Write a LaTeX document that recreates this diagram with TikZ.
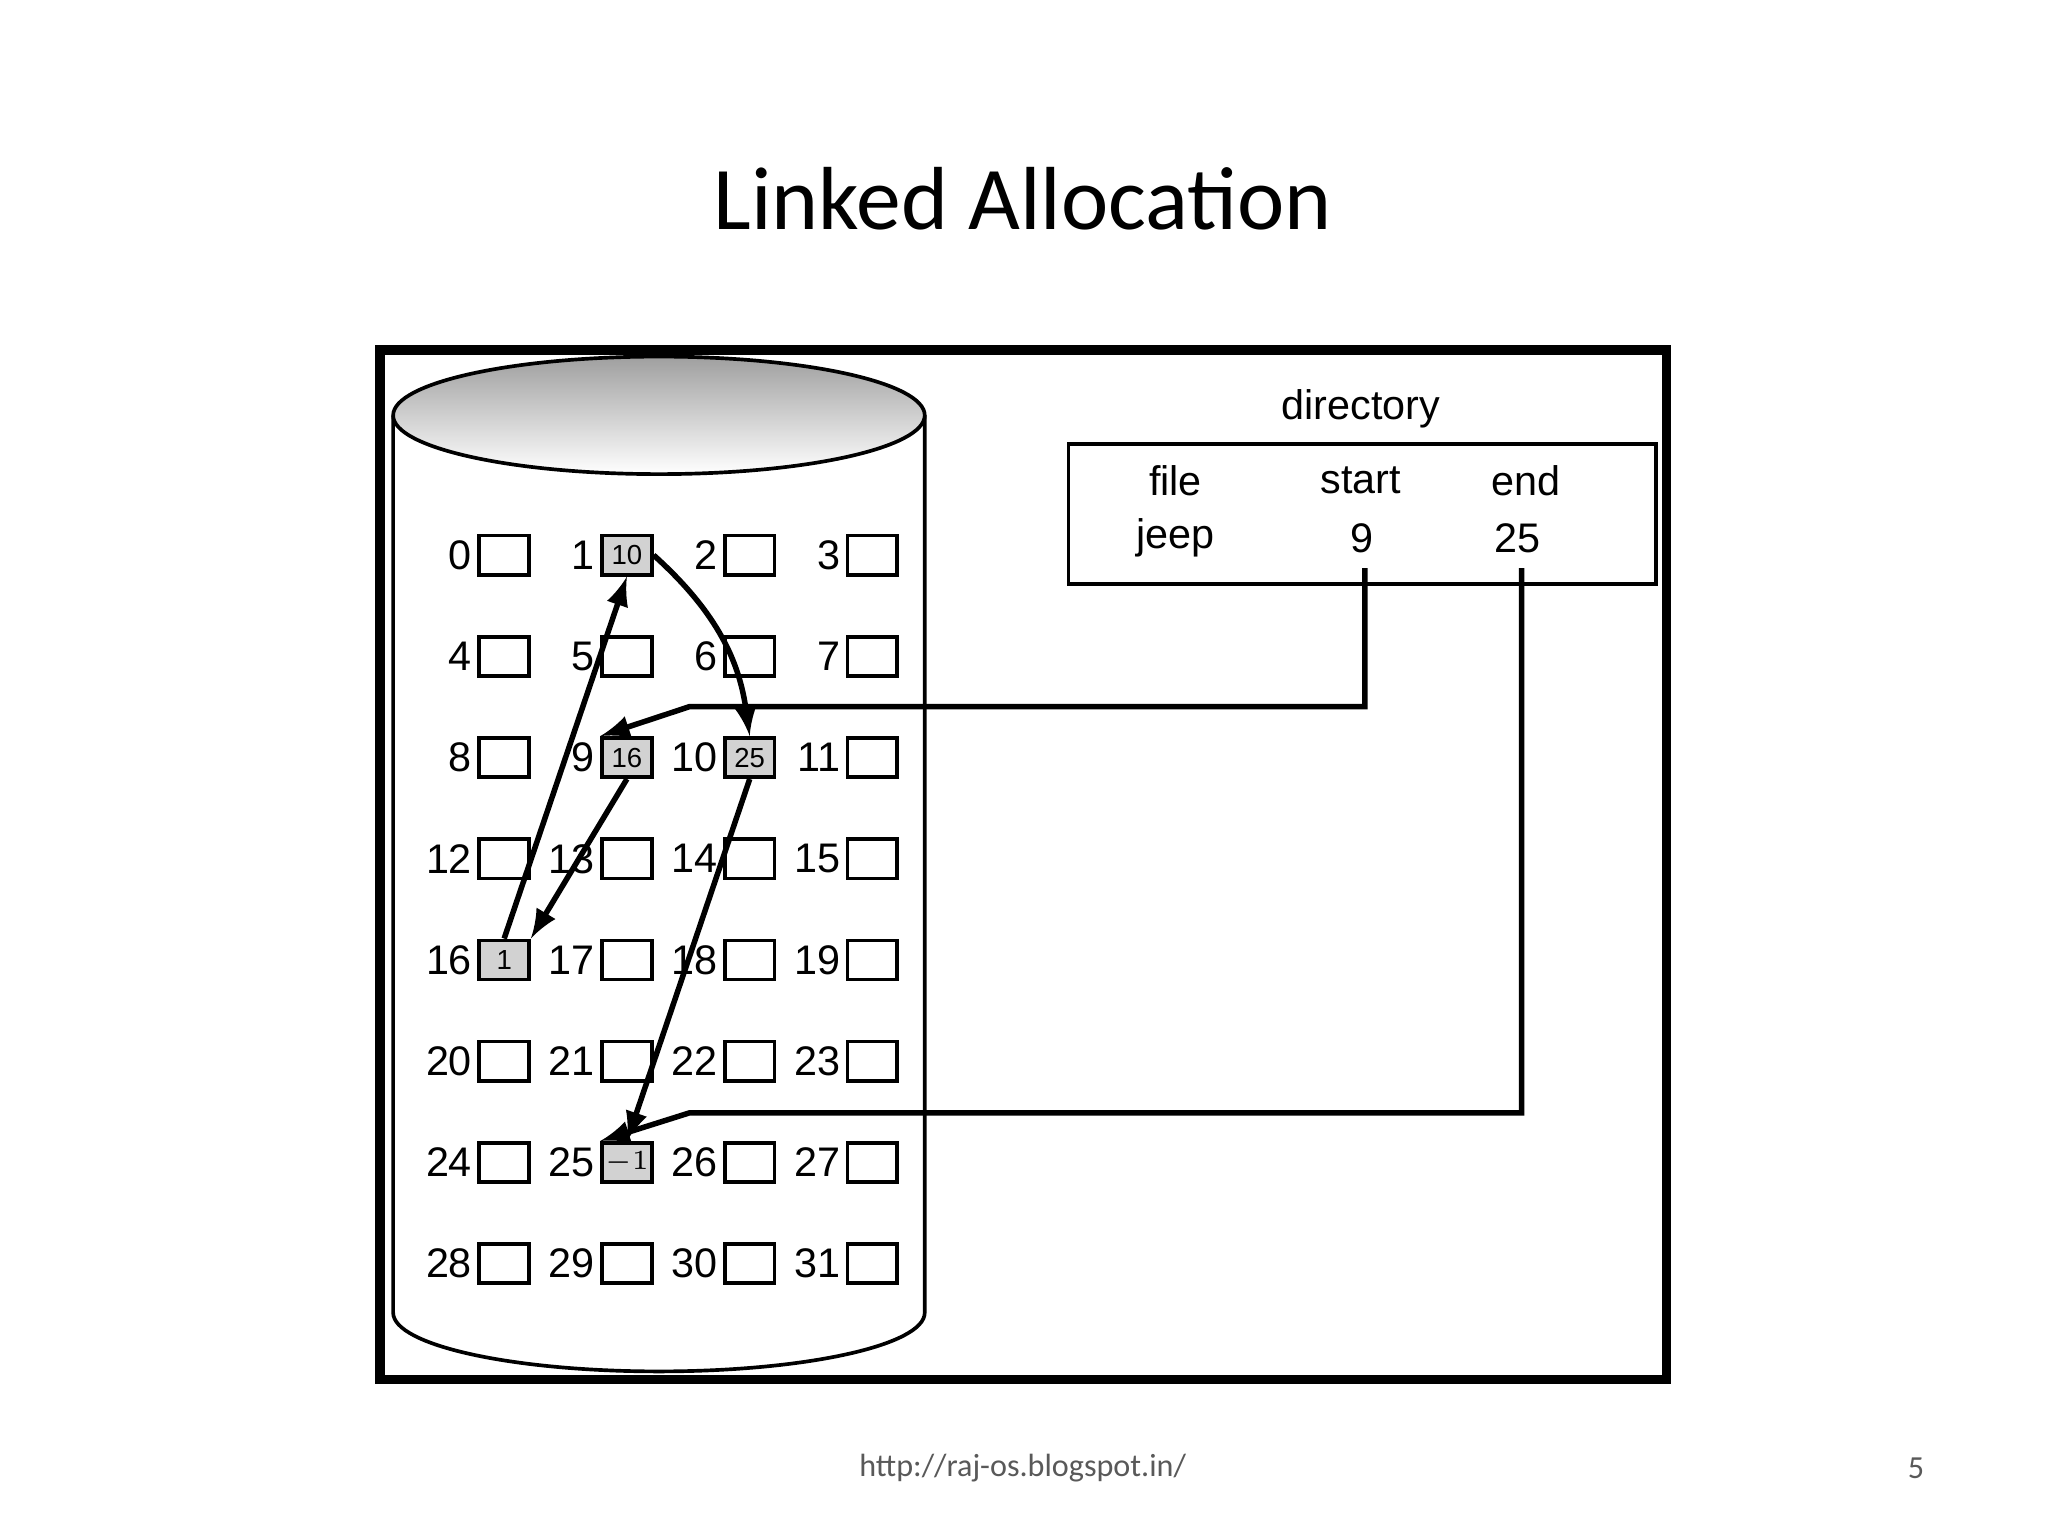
\documentclass[tikz,border=0pt]{standalone}
\usepackage{fontspec}
\setmainfont{Liberation Sans}
\newfontfamily\slidefont{Carlito}
\usetikzlibrary{positioning}
\begin{document}
\begin{tikzpicture}[x=0.01cm,y=-0.01cm,
blk/.style={draw,thick,minimum width=0.38cm,minimum height=0.30cm,inner sep=0pt,font=\fontsize{6}{6}\selectfont},
plain/.style={blk},
used/.style={blk,fill=gray!35},
num/.style={font=\fontsize{9}{9}\selectfont,inner sep=1pt},
link/.style={very thick,-latex}]
\useasboundingbox (0,0) rectangle (1568,1176);
\node (title) at (783,152) {\slidefont\fontsize{19.5}{19.5}\selectfont Linked Allocation};
\draw[line width=2pt] (291,268) rectangle (1276,1056);
% disk
\draw[thick,fill=white] (301,318) -- (301,1005) arc (180:0:203.5 and 45) -- (708,318);
\draw[thick,top color=gray!75,bottom color=white] (504.5,318) ellipse (203.5 and 45);
\foreach \i/\t/\s in {0//plain,1/10/used,2//plain,3//plain,4//plain,5//plain,6//plain,7//plain,
  8//plain,9/16/used,10/25/used,11//plain,12//plain,13//plain,14//plain,15//plain,
  16/1/used,17//plain,18//plain,19//plain,20//plain,21//plain,22//plain,23//plain,
  24//plain,25/$-1$/used,26//plain,27//plain,28//plain,29//plain,30//plain,31//plain}{
  \pgfmathtruncatemacro\col{mod(\i,4)}
  \pgfmathtruncatemacro\row{int(\i/4)}
  \node (b\i) [\s] at (386+94*\col,425+77.5*\row) {\t};
  \node [num,left=0pt of b\i] {\i};
}
% directory
\node (dir) at (1042,313) [num] {directory};
\draw[thick] (818,340) rectangle (1268,447);
\node (file) at (900,368) [num] {file};
\node (start) at (1042,368) [num] {start};
\node (end) at (1168,368) [num] {end};
\node (jeep) at (900,412) [num] {jeep};
\node (s9) at (1043,412) [num] {9};
\node (e25) at (1162,412) [num] {25};
% links
\draw[link] (1045,435) -- (1045,541) -- (528,541) -- (b9.north west);
\draw[link] (1165,435) -- (1165,852) -- (528,852) -- (b25.north west);
\draw[link] (b9.south) -- (b16.north east);
\draw[link] (b16.north) -- (b1.south);
\draw[link] (b1.east) to[bend left=20] (b10.north);
\draw[link] (b10.south) -- (b25.north);
\node (url) at (783,1124) {\slidefont\fontsize{7}{7}\selectfont\color{gray!70!black}http://raj-os.blogspot.in/};
\node (page) at (1467,1124) {\slidefont\fontsize{7}{7}\selectfont\color{gray!70!black}5};
\end{tikzpicture}
\end{document}
